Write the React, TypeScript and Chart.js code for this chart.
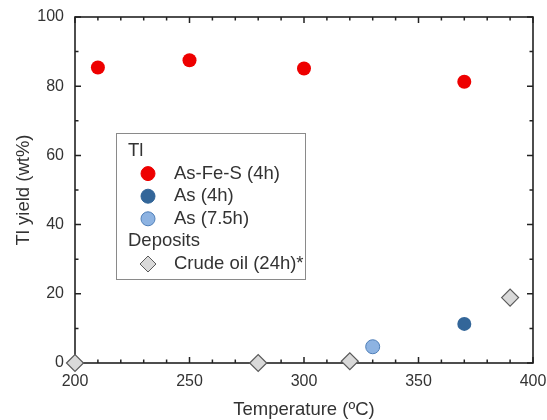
import React, { useEffect, useRef } from 'react';
import { Chart, registerables } from 'chart.js';
Chart.register(...registerables);

// ---- data ----
const asFeS_T = [210, 250, 300, 370];
const asFeS_Y = [85.4, 87.5, 85.1, 81.3];
const as4h_T = [370];
const as4h_Y = [11.3];
const as75h_T = [330];
const as75h_Y = [4.7];
const crude_T = [200, 280, 320, 390];
const crude_Y = [0, 0, 0.5, 18.9];

const xMajorTicks = [200, 250, 300, 350, 400];
const yMajorTicks = [0, 20, 40, 60, 80, 100];
const xMinorTicks = [210, 220, 230, 240, 260, 270, 280, 290, 310, 320, 330, 340, 360, 370, 380, 390];
const yMinorTicks = [10, 30, 50, 70, 90];

const xTitle = 'Temperature (ºC)';
const yTitle = 'Tl yield (wt%)';

const legendGroups = [
  { header: 'Tl', items: ['As-Fe-S (4h)', 'As (4h)', 'As (7.5h)'] },
  { header: 'Deposits', items: ['Crude oil (24h)*'] },
];

const RED = '#ee0000';
const DARK_BLUE = '#336699';
const LIGHT_BLUE = '#8db3e2';
const LIGHT_BLUE_BORDER = '#4f7fb8';
const GREY_FILL = '#d9d9d9';
const GREY_BORDER = '#5a5a5a';
const TEXT = '#333333';
const FONT = "'Liberation Sans', Arial, sans-serif";

const toPts = (xs: number[], ys: number[]) => xs.map((x, i) => ({ x, y: ys[i] }));

const framePlugin = {
  id: 'frame',
  beforeDatasetsDraw(chart: any) {
    const { ctx, chartArea: a, scales } = chart;
    const xs = scales.x, ys = scales.y;
    ctx.save();
    ctx.strokeStyle = '#222';
    ctx.lineWidth = 1.5;
    ctx.beginPath();
    const drawX = (vals: number[], len: number) => {
      vals.forEach((v) => {
        const px = xs.getPixelForValue(v);
        ctx.moveTo(px, a.bottom); ctx.lineTo(px, a.bottom - len);
        ctx.moveTo(px, a.top); ctx.lineTo(px, a.top + len);
      });
    };
    const drawY = (vals: number[], len: number) => {
      vals.forEach((v) => {
        const py = ys.getPixelForValue(v);
        ctx.moveTo(a.left, py); ctx.lineTo(a.left + len, py);
        ctx.moveTo(a.right, py); ctx.lineTo(a.right - len, py);
      });
    };
    drawX(xMajorTicks, 6);
    drawX(xMinorTicks, 3.5);
    drawY(yMajorTicks, 6);
    drawY(yMinorTicks, 3.5);
    ctx.stroke();
    ctx.lineWidth = 1.6;
    ctx.strokeRect(a.left, a.top, a.right - a.left, a.bottom - a.top);
    ctx.restore();
  },
};

const legendPlugin = {
  id: 'customLegend',
  afterDraw(chart: any) {
    const { ctx } = chart;
    const bx = 116, by = 133, bw = 189, bh = 146;
    ctx.save();
    ctx.fillStyle = '#ffffff';
    ctx.fillRect(bx, by, bw, bh);
    ctx.strokeStyle = '#8a8a8a';
    ctx.lineWidth = 1;
    ctx.strokeRect(bx + 0.5, by + 0.5, bw, bh);
    ctx.font = `18.5px ${FONT}`;
    ctx.textBaseline = 'middle';
    ctx.fillStyle = TEXT;
    const styles = [
      { fill: RED, stroke: RED, shape: 'circle' },
      { fill: DARK_BLUE, stroke: DARK_BLUE, shape: 'circle' },
      { fill: LIGHT_BLUE, stroke: LIGHT_BLUE_BORDER, shape: 'circle' },
      { fill: GREY_FILL, stroke: GREY_BORDER, shape: 'diamond' },
    ];
    let y = 151;
    let k = 0;
    const step = 22.6;
    legendGroups.forEach((g) => {
      ctx.fillStyle = TEXT;
      ctx.fillText(g.header, 128, y);
      y += step;
      g.items.forEach((it) => {
        const s = styles[k++];
        ctx.beginPath();
        if (s.shape === 'circle') {
          ctx.arc(148, y, 7, 0, Math.PI * 2);
        } else {
          ctx.moveTo(148 - 8, y); ctx.lineTo(148, y - 8); ctx.lineTo(148 + 8, y); ctx.lineTo(148, y + 8); ctx.closePath();
        }
        ctx.fillStyle = s.fill;
        ctx.fill();
        ctx.lineWidth = 1;
        ctx.strokeStyle = s.stroke;
        ctx.stroke();
        ctx.fillStyle = TEXT;
        ctx.fillText(it, 174, y);
        y += step;
      });
    });
    ctx.restore();
  },
};

export default function App() {
  const ref = useRef<HTMLCanvasElement | null>(null);
  useEffect(() => {
    document.body.style.margin = '0';
    if (!ref.current) return;
    const chart = new Chart(ref.current, {
      type: 'scatter',
      data: {
        datasets: [
          { label: 'As-Fe-S (4h)', data: toPts(asFeS_T, asFeS_Y), backgroundColor: RED, borderColor: RED, pointRadius: 7, borderWidth: 0, clip: false } as any,
          { label: 'As (4h)', data: toPts(as4h_T, as4h_Y), backgroundColor: DARK_BLUE, borderColor: DARK_BLUE, pointRadius: 7, borderWidth: 0, clip: false } as any,
          { label: 'As (7.5h)', data: toPts(as75h_T, as75h_Y), backgroundColor: LIGHT_BLUE, borderColor: LIGHT_BLUE_BORDER, pointRadius: 7, borderWidth: 1, clip: false } as any,
          { label: 'Crude oil (24h)*', data: toPts(crude_T, crude_Y), backgroundColor: GREY_FILL, borderColor: GREY_BORDER, pointStyle: 'rectRot', pointRadius: 8.5, borderWidth: 1.2, clip: false } as any,
        ],
      },
      options: {
        animation: false,
        responsive: false,
        maintainAspectRatio: false,
        layout: { padding: { top: 17, right: 14, left: 0, bottom: 0 } },
        plugins: { legend: { display: false }, tooltip: { enabled: false } },
        scales: {
          x: {
            type: 'linear', min: 200, max: 400,
            afterBuildTicks: (s: any) => { s.ticks = xMajorTicks.map((v) => ({ value: v })); },
            afterFit: (s: any) => { s.height = 57; s.paddingLeft = 0; s.paddingRight = 0; },
            grid: { display: false, drawTicks: false },
            border: { display: false },
            ticks: { color: TEXT, font: { family: FONT, size: 16 }, padding: 9, maxRotation: 0 },
            title: { display: true, text: xTitle, color: TEXT, font: { family: FONT, size: 18.5 }, padding: { top: 0, bottom: -1 } },
          },
          y: {
            type: 'linear', min: 0, max: 100,
            afterBuildTicks: (s: any) => { s.ticks = yMajorTicks.map((v) => ({ value: v })); },
            afterFit: (s: any) => { s.width = 75; s.paddingTop = 0; s.paddingBottom = 0; },
            grid: { display: false, drawTicks: false },
            border: { display: false },
            ticks: { color: TEXT, font: { family: FONT, size: 16 }, padding: 11 },
            title: { display: true, text: yTitle, color: TEXT, font: { family: FONT, size: 18.5 }, padding: { top: 13, bottom: 0 } },
          },
        },
      } as any,
      plugins: [framePlugin, legendPlugin],
    });
    return () => chart.destroy();
  }, []);
  return (
    <div style={{ width: 547, height: 420 }}>
      <canvas ref={ref} width={547} height={420} style={{ width: 547, height: 420, display: 'block' }} />
    </div>
  );
}
